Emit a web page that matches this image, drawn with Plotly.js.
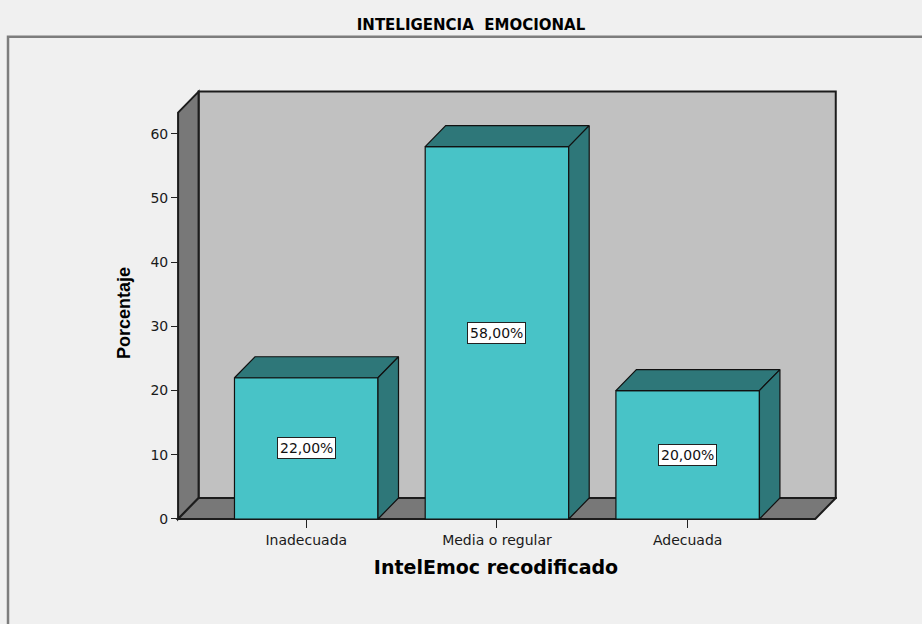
<!DOCTYPE html>
<html>
<head>
<meta charset="utf-8">
<script src="https://cdn.plot.ly/plotly-3.0.1.min.js"></script>
<style>
  html, body { margin: 0; padding: 0; background: #F0F0F0; }
  #chart { width: 922px; height: 624px; }
</style>
</head>
<body>
<div id="chart"></div>
<script>
// Distribution of the recoded emotional-intelligence variable
const categories = ['Inadecuada', 'Media o regular', 'Adecuada'];
const percentages = [22, 58, 20];
const valueLabels = ['22,00%', '58,00%', '20,00%'];
const yTickValues = [0, 10, 20, 30, 40, 50, 60];

// 3D box geometry, in axis units
const BAR_WIDTH = 0.7525;   // front face width
const DEPTH_X = 0.1075;     // horizontal depth offset
const DEPTH_Y = 3.27;       // vertical depth offset
const WALL_TOP = 63.3;      // height of the left wall front edge
const FLOOR_X0 = -0.672;    // front-left corner of the floor
const FLOOR_X1 = 2.669;     // front-right corner of the floor

const xRange = [-0.793, 2.783];
const yRange = [-3.43, 67.6];

// pixel scale of the axes
const KX = 190.7, KY = 6.4167;
const ORIGIN_PX = 306.2, BASE_PX = 519;
const W = 922, H = 624;
const mL = ORIGIN_PX - (0 - xRange[0]) * KX;
const plotW = (xRange[1] - xRange[0]) * KX;
const mR = W - mL - plotW;
const mT = BASE_PX - yRange[1] * KY;
const mB = H - BASE_PX - (0 - yRange[0]) * KY;
const plotH = (yRange[1] - yRange[0]) * KY;

const BAR_FRONT = '#48C3C7';
const BAR_DARK = '#2E7779';
const WALL_BACK = '#C1C1C1';
const WALL_SIDE = '#787878';
const FONT = 'DejaVu Sans, Arial, sans-serif';
const FONT_V = 'Liberation Sans, Arial, sans-serif';

function poly(pts) {
  return 'M' + pts.map(p => p[0] + ',' + p[1]).join(' L') + ' Z';
}

// back wall, left wall and floor
const shapes = [
  {
    type: 'path', xref: 'x', yref: 'y', layer: 'below',
    path: poly([[FLOOR_X0 + DEPTH_X, DEPTH_Y], [FLOOR_X0 + DEPTH_X, WALL_TOP + DEPTH_Y],
                [FLOOR_X1 + DEPTH_X, WALL_TOP + DEPTH_Y], [FLOOR_X1 + DEPTH_X, DEPTH_Y]]),
    fillcolor: WALL_BACK, line: { color: '#1c1c1c', width: 2 }
  },
  {
    type: 'path', xref: 'x', yref: 'y', layer: 'below',
    path: poly([[FLOOR_X0, 0], [FLOOR_X0, WALL_TOP], [FLOOR_X0 + DEPTH_X, WALL_TOP + DEPTH_Y],
                [FLOOR_X0 + DEPTH_X, DEPTH_Y]]),
    fillcolor: WALL_SIDE, line: { color: '#1c1c1c', width: 2 }
  },
  {
    type: 'path', xref: 'x', yref: 'y', layer: 'below',
    path: poly([[FLOOR_X0, 0], [FLOOR_X0 + DEPTH_X, DEPTH_Y], [FLOOR_X1 + DEPTH_X, DEPTH_Y],
                [FLOOR_X1, 0]]),
    fillcolor: WALL_SIDE, line: { color: '#1c1c1c', width: 2 }
  },
  // outer chart frame
  {
    type: 'rect', xref: 'paper', yref: 'paper', layer: 'below',
    x0: (8 - mL) / plotW, x1: (940 - mL) / plotW,
    y0: (H - mB - 640) / plotH,
    y1: (H - mB - 37) / plotH,
    line: { color: '#7d7d7d', width: 2.5 }, fillcolor: 'rgba(0,0,0,0)'
  }
];

const traces = [];

// front faces of the bars
traces.push({
  type: 'bar',
  x: categories.map((c, i) => i),
  y: percentages,
  width: BAR_WIDTH,
  marker: { color: BAR_FRONT, line: { color: '#111', width: 1.2 } },
  hoverinfo: 'skip',
  showlegend: false
});

// top and side faces of each bar
percentages.forEach((v, i) => {
  const l = i - BAR_WIDTH / 2, r = i + BAR_WIDTH / 2;
  const top = [[l, v], [l + DEPTH_X, v + DEPTH_Y], [r + DEPTH_X, v + DEPTH_Y], [r, v], [l, v]];
  const side = [[r, 0], [r + DEPTH_X, DEPTH_Y], [r + DEPTH_X, v + DEPTH_Y], [r, v], [r, 0]];
  [top, side].forEach(face => {
    traces.push({
      type: 'scatter', mode: 'lines', fill: 'toself',
      x: face.map(p => p[0]), y: face.map(p => p[1]),
      fillcolor: BAR_DARK, line: { color: '#111', width: 1.2 },
      hoverinfo: 'skip', showlegend: false
    });
  });
});

// value labels in the middle of each bar
const annotations = percentages.map((v, i) => ({
  x: i, y: v / 2, xref: 'x', yref: 'y',
  text: valueLabels[i], showarrow: false,
  font: { family: FONT, size: 14, color: '#111' },
  bgcolor: '#FFFFFF', bordercolor: '#222', borderwidth: 1, borderpad: 2
}));

const layout = {
  width: W, height: H,
  autosize: false,
  margin: { l: mL, r: mR, t: mT, b: mB, pad: 0 },
  paper_bgcolor: '#F0F0F0',
  plot_bgcolor: 'rgba(0,0,0,0)',
  showlegend: false,
  title: {
    text: 'INTELIGENCIA\u00a0\u00a0EMOCIONAL',
    font: { family: FONT, size: 15, color: '#000', weight: 'bold' },
    x: 471 / W, xref: 'container', xanchor: 'center',
    y: 1 - 25 / H, yref: 'container', yanchor: 'middle'
  },
  xaxis: {
    range: xRange, fixedrange: true,
    anchor: 'free', position: (0 - yRange[0]) / (yRange[1] - yRange[0]),
    tickvals: categories.map((c, i) => i), ticktext: categories,
    ticks: 'outside', ticklen: 8, tickwidth: 1, tickcolor: '#222',
    showgrid: false, zeroline: false, showline: false,
    tickfont: { family: FONT, size: 14, color: '#1a1a1a' },
    title: {
      text: 'IntelEmoc recodificado', standoff: 13,
      font: { family: FONT, size: 19, color: '#000', weight: 'bold' }
    }
  },
  yaxis: {
    range: yRange, fixedrange: true,
    anchor: 'free', position: (FLOOR_X0 - xRange[0]) / (xRange[1] - xRange[0]),
    tickvals: yTickValues,
    ticks: 'outside', ticklen: 7, tickwidth: 1, tickcolor: '#222',
    showgrid: false, zeroline: false, showline: false,
    tickfont: { family: FONT, size: 14, color: '#1a1a1a' },
    title: {
      text: 'Porcentaje', standoff: 14,
      font: { family: FONT_V, size: 18, color: '#000', weight: 'bold' }
    }
  },
  shapes: shapes,
  annotations: annotations,
  bargap: 0
};

Plotly.newPlot('chart', traces, layout, { staticPlot: true, displayModeBar: false });
</script>
</body>
</html>
